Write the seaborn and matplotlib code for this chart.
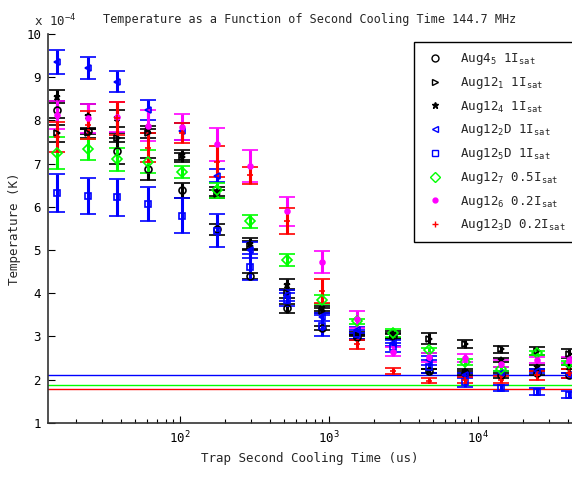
import numpy as np
import pandas as pd
import seaborn as sns
import matplotlib.pyplot as plt
from matplotlib.lines import Line2D
from matplotlib.ticker import LogLocator, LogFormatterMathtext, NullFormatter

# cooling times (us) and temperatures in units of 1e-4 K
cooling_time = [15, 24, 38, 61, 103, 177, 295, 523, 898, 1540, 2690, 4690, 8180, 14260, 24900, 40800]

aug4_5 = [8.25, 7.75, 7.3, 6.87, 6.38, 5.48, 4.4, 3.65, 3.2, 2.98, 3.0, 2.2, 2.15, 2.1, 2.15, 2.1]
aug4_5_err = [0.2, 0.06, 0.3, 0.25, 0.18, 0.13, 0.08, 0.1, 0.05, 0.05, 0.05, 0.05, 0.05, 0.05, 0.05, 0.05]

aug12_1 = [7.7, 7.7, 7.6, 7.7, 7.15, 6.3, 5.1, 4.0, 3.6, 3.0, 3.02, 2.95, 2.83, 2.7, 2.66, 2.6]
aug12_1_err = [0.2, 0.1, 0.1, 0.1, 0.1, 0.1, 0.1, 0.1, 0.05, 0.05, 0.06, 0.12, 0.1, 0.09, 0.1, 0.1]

aug12_4 = [8.55, 8.1, 8.05, 7.8, 7.2, 6.35, 5.15, 4.2, 3.65, 3.05, 3.05, 2.2, 2.2, 2.45, 2.3, 2.3]
aug12_4_err = [0.15, 0.28, 0.2, 0.08, 0.12, 0.1, 0.12, 0.12, 0.05, 0.05, 0.08, 0.05, 0.05, 0.05, 0.05, 0.05]

aug12_2d = [9.35, 9.22, 8.9, 8.25, 7.75, 6.72, 5.0, 3.95, 3.45, 3.15, 2.85, 2.45, 2.1, 2.15, 2.2, 2.1]
aug12_2d_err = [0.27, 0.25, 0.25, 0.23, 0.2, 0.15, 0.18, 0.12, 0.1, 0.07, 0.07, 0.1, 0.05, 0.05, 0.05, 0.05]

aug12_5d = [6.32, 6.25, 6.22, 6.07, 5.8, 5.45, 4.6, 3.85, 3.25, 3.05, 2.75, 2.3, 1.95, 1.8, 1.72, 1.65]
aug12_5d_err = [0.44, 0.42, 0.42, 0.4, 0.4, 0.38, 0.3, 0.15, 0.25, 0.1, 0.1, 0.15, 0.12, 0.07, 0.08, 0.08]

aug12_7 = [7.25, 7.33, 7.1, 7.05, 6.8, 6.38, 5.67, 4.77, 3.85, 3.35, 3.08, 2.68, 2.4, 2.25, 2.62, 2.38]
aug12_7_err = [0.37, 0.25, 0.27, 0.27, 0.14, 0.17, 0.15, 0.14, 0.1, 0.06, 0.09, 0.06, 0.07, 0.05, 0.05, 0.05]

aug12_6 = [8.12, 8.05, 8.08, 7.88, 7.85, 7.45, 6.94, 5.9, 4.72, 3.4, 2.65, 2.52, 2.5, 2.37, 2.45, 2.45]
aug12_6_err = [0.32, 0.33, 0.35, 0.36, 0.3, 0.38, 0.37, 0.34, 0.26, 0.2, 0.1, 0.1, 0.1, 0.08, 0.07, 0.07]

aug12_3d = [7.62, 7.9, 8.05, 7.37, 7.72, 7.05, 6.73, 5.67, 4.05, 2.82, 2.2, 1.98, 2.0, 2.0, 2.1, 2.15]
aug12_3d_err = [0.35, 0.33, 0.38, 0.33, 0.23, 0.35, 0.2, 0.3, 0.27, 0.1, 0.07, 0.06, 0.07, 0.08, 0.1, 0.1]

# Doppler-limit reference lines (1e-4 K)
ref_levels = [2.1, 1.88, 1.78]
ref_colors = ['blue', '#00ff00', 'red']

series = [
    (r'Aug4$_\mathregular{5}$ 1I$_\mathregular{sat}$', aug4_5, aug4_5_err, 'o', 'black', False),
    (r'Aug12$_\mathregular{1}$ 1I$_\mathregular{sat}$', aug12_1, aug12_1_err, '>', 'black', False),
    (r'Aug12$_\mathregular{4}$ 1I$_\mathregular{sat}$', aug12_4, aug12_4_err, '*', 'black', True),
    (r'Aug12$_\mathregular{2}$D 1I$_\mathregular{sat}$', aug12_2d, aug12_2d_err, '<', 'blue', False),
    (r'Aug12$_\mathregular{5}$D 1I$_\mathregular{sat}$', aug12_5d, aug12_5d_err, 's', 'blue', False),
    (r'Aug12$_\mathregular{7}$ 0.5I$_\mathregular{sat}$', aug12_7, aug12_7_err, 'D', '#00ff00', False),
    (r'Aug12$_\mathregular{6}$ 0.2I$_\mathregular{sat}$', aug12_6, aug12_6_err, '.', 'magenta', True),
    (r'Aug12$_\mathregular{3}$D 0.2I$_\mathregular{sat}$', aug12_3d, aug12_3d_err, '+', 'red', True),
]

sns.set_theme(style='ticks')
plt.rcParams['font.family'] = ['DejaVu Sans Mono']
plt.rcParams['mathtext.default'] = 'regular'

fig = plt.figure(figsize=(5.72, 4.8), dpi=100)
ax = fig.add_axes([0.084, 0.119, 0.916, 0.81])

handles = []
for label, vals, errs, marker, color, filled in series:
    df = pd.DataFrame({'t': cooling_time, 'T': vals, 'err': errs})
    ms = 5 if marker != '.' else 7
    ax.errorbar(df['t'], df['T'], yerr=df['err'], fmt=marker, color=color,
                ecolor=color, elinewidth=2.2, capsize=5.5, capthick=2.2,
                markersize=ms, markeredgewidth=1.2,
                markerfacecolor=color if filled else 'none', zorder=3)
    handles.append(Line2D([], [], linestyle='none', marker=marker, color=color,
                          markersize=ms, markeredgewidth=1,
                          markerfacecolor=color if filled else 'none'))

for lvl, c in zip(ref_levels, ref_colors):
    ax.axhline(lvl, color=c, linewidth=1, zorder=2)

ax.set_xscale('log')
ax.set_xlim(13, 42700)
ax.set_ylim(1, 10)
ax.set_yticks(range(1, 11))
ax.xaxis.set_major_locator(LogLocator(base=10, numticks=10))
ax.xaxis.set_major_formatter(LogFormatterMathtext())
ax.xaxis.set_minor_locator(LogLocator(base=10, subs=np.arange(2, 10), numticks=50))
ax.xaxis.set_minor_formatter(NullFormatter())

ax.tick_params(which='both', direction='in', labelsize=9, colors='black', pad=5)
ax.tick_params(which='major', length=5, width=0.8)
ax.tick_params(which='minor', length=3, width=0.8)
sns.despine(ax=ax, top=True, right=True)
for s in ('left', 'bottom'):
    ax.spines[s].set_color('#333333')
    ax.spines[s].set_linewidth(1.2)

ax.set_xlabel('Trap Second Cooling Time (us)', fontsize=9)
ax.set_ylabel('Temperature (K)', fontsize=9)
ax.set_title('Temperature as a Function of Second Cooling Time 144.7 MHz', fontsize=8.5, pad=8)
fig.text(0.06, 0.945, r'x 10$^{-4}$', fontsize=9)

leg = ax.legend(handles, [s[0] for s in series], loc='upper right',
                bbox_to_anchor=(1.01, 0.985), bbox_transform=ax.transAxes,
                fontsize=9, frameon=True, fancybox=False, labelspacing=0.62,
                handletextpad=1.0, borderpad=0.7, borderaxespad=0.2)
leg.get_frame().set_edgecolor('black')
leg.get_frame().set_linewidth(1)
leg.get_frame().set_alpha(1)

fig.savefig('out.png', dpi=100)
